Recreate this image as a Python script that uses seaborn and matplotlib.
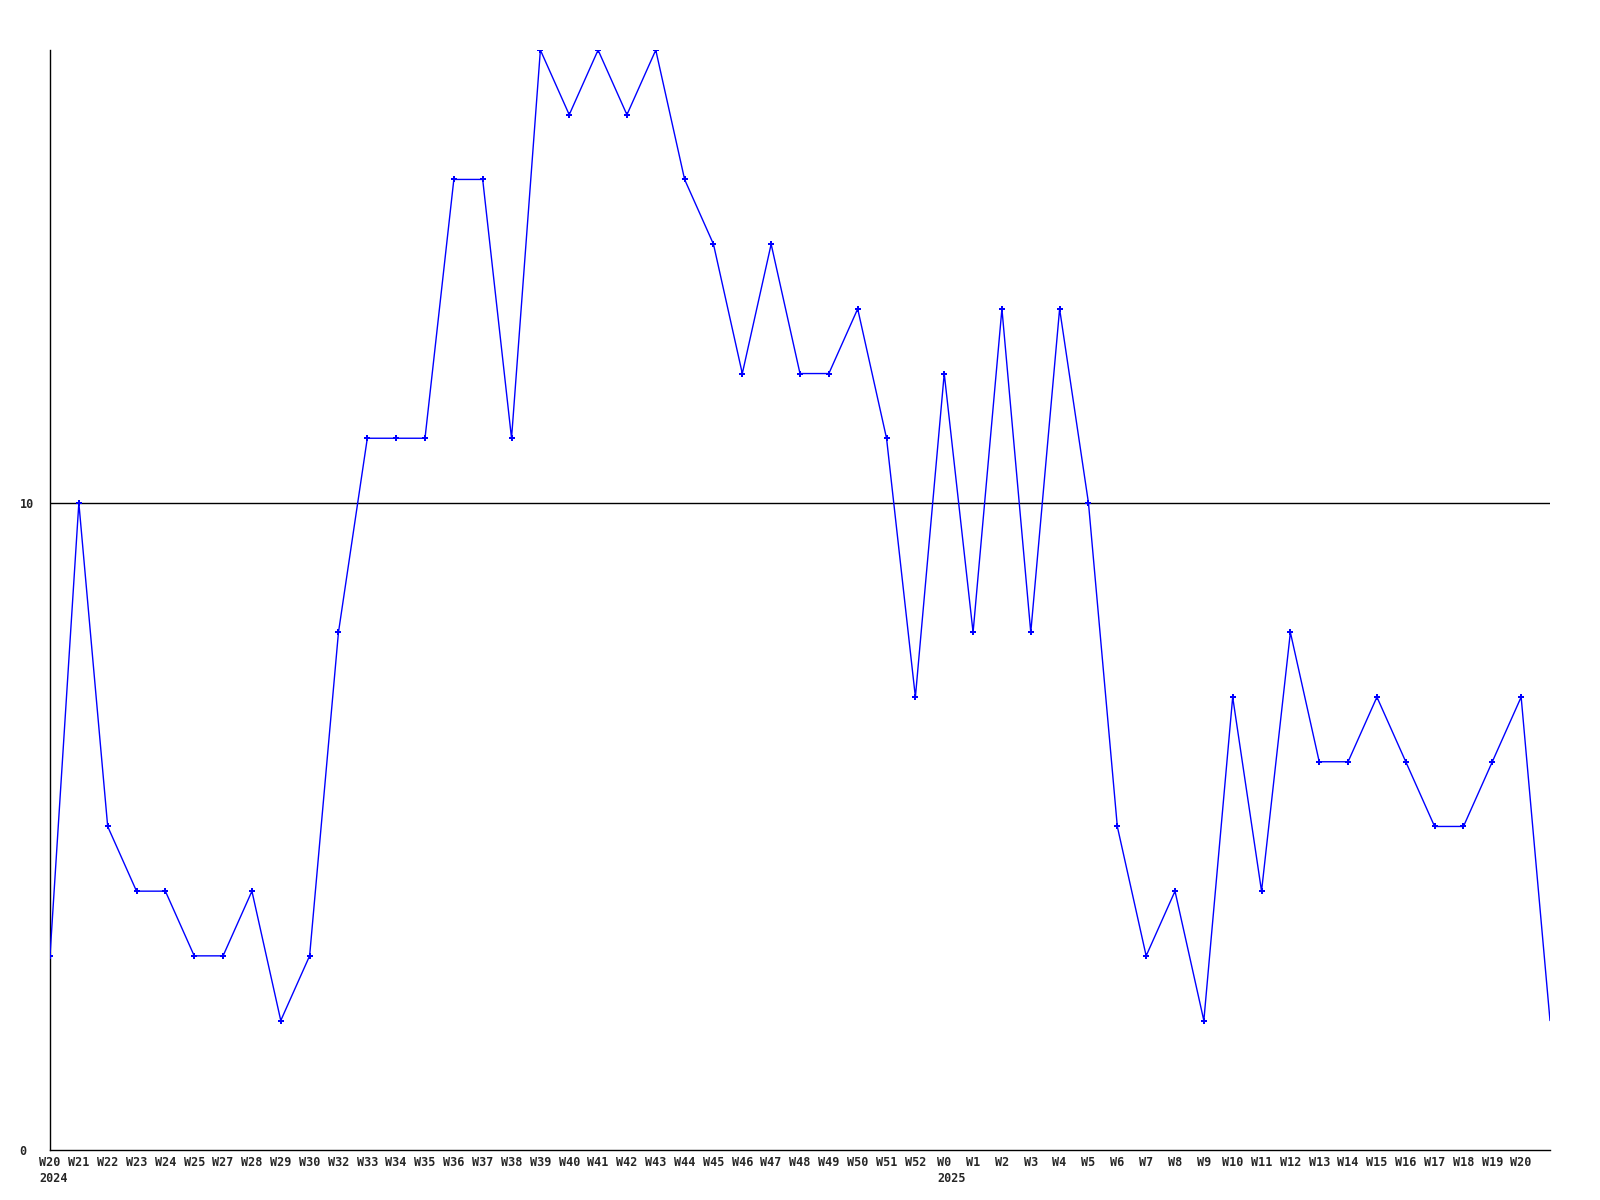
import numpy as np
import pandas as pd
import matplotlib
matplotlib.use('Agg')
import matplotlib.pyplot as plt
import seaborn as sns

weeks = ['W20', 'W21', 'W22', 'W23', 'W24', 'W25', 'W27', 'W28', 'W29', 'W30',
         'W32', 'W33', 'W34', 'W35', 'W36', 'W37', 'W38', 'W39', 'W40', 'W41',
         'W42', 'W43', 'W44', 'W45', 'W46', 'W47', 'W48', 'W49', 'W50', 'W51',
         'W52', 'W0', 'W1', 'W2', 'W3', 'W4', 'W5', 'W6', 'W7', 'W8',
         'W9', 'W10', 'W11', 'W12', 'W13', 'W14', 'W15', 'W16', 'W17', 'W18',
         'W19', 'W20', '']
years = {0: '2024', 31: '2025'}
counts = [3, 10, 5, 4, 4, 3, 3, 4, 2, 3,
          8, 11, 11, 11, 15, 15, 11, 17, 16, 17,
          16, 17, 15, 14, 12, 14, 12, 12, 13, 11,
          7, 12, 8, 13, 8, 13, 10, 5, 3, 4,
          2, 7, 4, 8, 6, 6, 7, 6, 5, 5,
          6, 7, 2]

df = pd.DataFrame({'pos': np.arange(len(counts)), 'count': counts})

sns.set_style('white')
plt.rcParams['font.family'] = ['DejaVu Sans Mono']
fs = 8.5
charw = 0.6 * fs

fig = plt.figure(figsize=(16, 12), dpi=100)
ax = fig.add_axes([0.03125, 0.0417, 0.9375, 0.9166])

ax.axhline(10, color='black', linewidth=1, zorder=1)
sns.lineplot(data=df, x='pos', y='count', ax=ax, color='#0000ff', linewidth=1,
             marker='P', markersize=4, markeredgewidth=0,
             markevery=list(range(len(counts) - 1)), zorder=3)

ax.set_xlim(0, len(counts) - 1)
ax.set_ylim(0, 17)
ax.set_yticks([0, 10])
ax.set_yticklabels(['0', '10'], fontsize=fs, fontweight='bold', ha='left')
ax.set_xticks(df['pos'])
ax.set_xticklabels(weeks, fontsize=fs, fontweight='bold')
ax.tick_params(axis='x', length=0, pad=4)
ax.tick_params(axis='y', length=0, pad=22)
ax.set_xlabel('')
ax.set_ylabel('')

# year under the first week of each year, left aligned with the week label
for i, yr in years.items():
    ax.annotate(yr, xy=(i, 0), xycoords=('data', 'axes fraction'),
                xytext=(-charw * len(weeks[i]) / 2, -16), textcoords='offset points',
                ha='left', va='top', fontsize=fs, fontweight='bold')

for side in ['top', 'right']:
    ax.spines[side].set_visible(False)
for side in ['left', 'bottom']:
    ax.spines[side].set_color('black')
    ax.spines[side].set_linewidth(1)

fig.savefig('out.png', dpi=100)
